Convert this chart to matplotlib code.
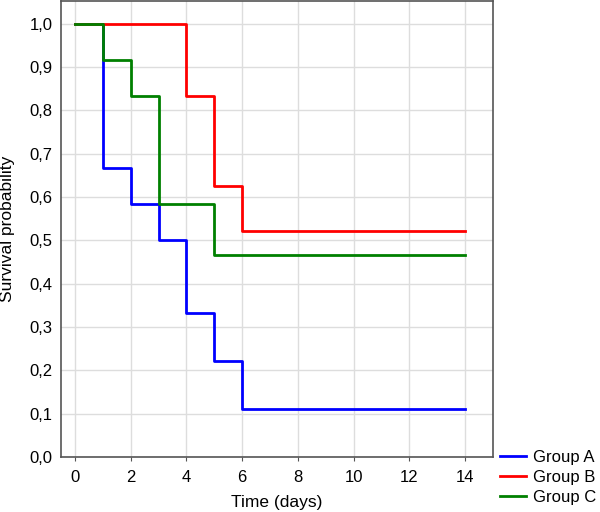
import matplotlib
matplotlib.use('Agg')
import matplotlib.pyplot as plt
from matplotlib.ticker import FuncFormatter

plt.rcParams['font.family'] = ['Liberation Sans', 'DejaVu Sans']

# 生存時間データ (日)
time_a = [0, 1, 2, 3, 4, 5, 6, 14]
surv_a = [1.0, 0.667, 0.583, 0.5, 0.333, 0.222, 0.111, 0.111]
time_b = [0, 4, 5, 6, 14]
surv_b = [1.0, 0.833, 0.625, 0.521, 0.521]
time_c = [0, 1, 2, 3, 5, 14]
surv_c = [1.0, 0.917, 0.833, 0.583, 0.467, 0.467]
labels = ['Group A', 'Group B', 'Group C']
colors = ['#0000ff', '#ff0000', '#008000']

fig = plt.figure(figsize=(6, 5.12), dpi=100)
ax = fig.add_axes([61/600, 1 - 457/512, (493-61)/600, (457-1)/512])

for t, s, lab, c in zip([time_a, time_b, time_c], [surv_a, surv_b, surv_c], labels, colors):
    ax.step(t, s, where='post', color=c, lw=2, label=lab)

ax.set_xlim(-0.5, 15)
ax.set_ylim(0, 1.052)
ax.set_xticks(range(0, 15, 2))
ax.set_yticks([i/10 for i in range(11)])
ax.yaxis.set_major_formatter(FuncFormatter(lambda v, p: ('%.1f' % v).replace('.', ',')))
ax.grid(True, color='#dddddd', lw=1)
ax.set_axisbelow(True)
ax.tick_params(labelsize=12, direction='out', length=3, color='#555555')
ax.tick_params(axis='x', pad=6)
ax.tick_params(axis='y', length=0, pad=6)
for sp in ax.spines.values():
    sp.set_color('#555555')
    sp.set_linewidth(1.2)

ax.set_xlabel('Time (days)', fontsize=12.5)
ax.xaxis.set_label_coords(0.5, -(495-457)/456)
ax.set_ylabel('Survival probability', fontsize=12.5)
ax.yaxis.set_label_coords(-(61-15)/432, 0.5)

ax.legend(loc='upper left', bbox_to_anchor=(500/600, 1-450/512), bbox_transform=fig.transFigure,
          frameon=False, fontsize=12, handlelength=1.55, handletextpad=0.45,
          borderaxespad=0, borderpad=0, labelspacing=0.3)

plt.savefig('out.png', dpi=100)
